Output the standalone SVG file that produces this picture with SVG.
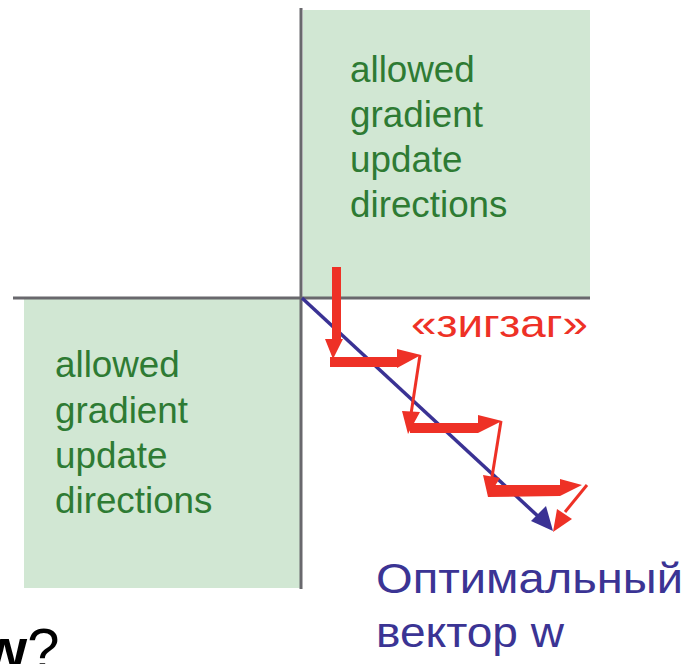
<svg xmlns="http://www.w3.org/2000/svg" width="688" height="664" viewBox="0 0 688 664">
  <style>
    .region { fill: #d1e7d3; }
    .axis { stroke: #69686d; stroke-width: 3; fill: none; }
    .green { font-family: "Liberation Sans", Arial, sans-serif; font-size: 36.8px; fill: #2e7b33; }
    .red { fill: #ee3126; }
    .step { stroke: #ee3126; stroke-width: 3; fill: none; }
    .blue { stroke: #3a3294; stroke-width: 3.5; fill: none; }
    .label { font-family: "Liberation Sans", Arial, sans-serif; }
  </style>

  <!-- allowed quadrants -->
  <g id="quadrant-upper">
    <rect class="region" x="303" y="10" width="287" height="287"/>
    <text class="green" x="350" y="82">allowed</text>
    <text class="green" x="350" y="127">gradient</text>
    <text class="green" x="350" y="172">update</text>
    <text class="green" x="350" y="217">directions</text>
  </g>
  <g id="quadrant-lower">
    <rect class="region" x="24" y="299" width="277" height="289"/>
    <text class="green" x="55" y="377">allowed</text>
    <text class="green" x="55" y="423">gradient</text>
    <text class="green" x="55" y="468">update</text>
    <text class="green" x="55" y="513">directions</text>
  </g>

  <!-- coordinate axes -->
  <g id="axes">
    <line class="axis" x1="13" y1="298" x2="590" y2="298"/>
    <line class="axis" x1="301" y1="8" x2="301" y2="589"/>
  </g>

  <g id="connectors">
    <!-- optimal direction -->
    <line class="blue" x1="302" y1="298" x2="541" y2="519"/>
    <polygon fill="#3a3294" points="531,521 546,506 553,531"/>

    <!-- zigzag steps: thick gradient updates -->
    <polygon class="red" points="332,267 341,267 341,339 343,339 333,359 325,339 332,339"/>
    <polygon class="red" points="330,357 397,357 397,349 421,355 397,368 397,367 330,367"/>
    <polygon class="red" points="410,423 478,423 478,415 502,421 478,433 410,433"/>
    <polygon class="red" points="488,485 560,485 560,479 582,485 560,496 488,497"/>

    <!-- thin connecting strokes -->
    <line class="step" x1="420" y1="355" x2="411" y2="414"/>
    <polygon class="red" points="402,411 420,412 408,434"/>
    <line class="step" x1="501" y1="421" x2="492" y2="477"/>
    <polygon class="red" points="483,475 500,478 488,497"/>
    <line class="step" x1="587" y1="485" x2="565" y2="512"/>
    <polygon class="red" points="557,509 572,519 553,532"/>
  </g>

  <g id="label-zigzag">
    <text class="label" x="411" y="337" font-size="39" fill="#ee3126" textLength="177" lengthAdjust="spacingAndGlyphs">«зигзаг»</text>
  </g>
  <g id="label-optimal">
    <text class="label" x="376" y="593" font-size="42" fill="#3b3494" textLength="307" lengthAdjust="spacingAndGlyphs">Оптимальный</text>
    <text class="label" x="376" y="647" font-size="42" fill="#3b3494" textLength="188" lengthAdjust="spacingAndGlyphs">вектор w</text>
  </g>
  <g id="label-question">
    <text class="label" x="-18" y="669" font-size="58" fill="#000"><tspan font-weight="bold">w</tspan>?</text>
  </g>
</svg>
